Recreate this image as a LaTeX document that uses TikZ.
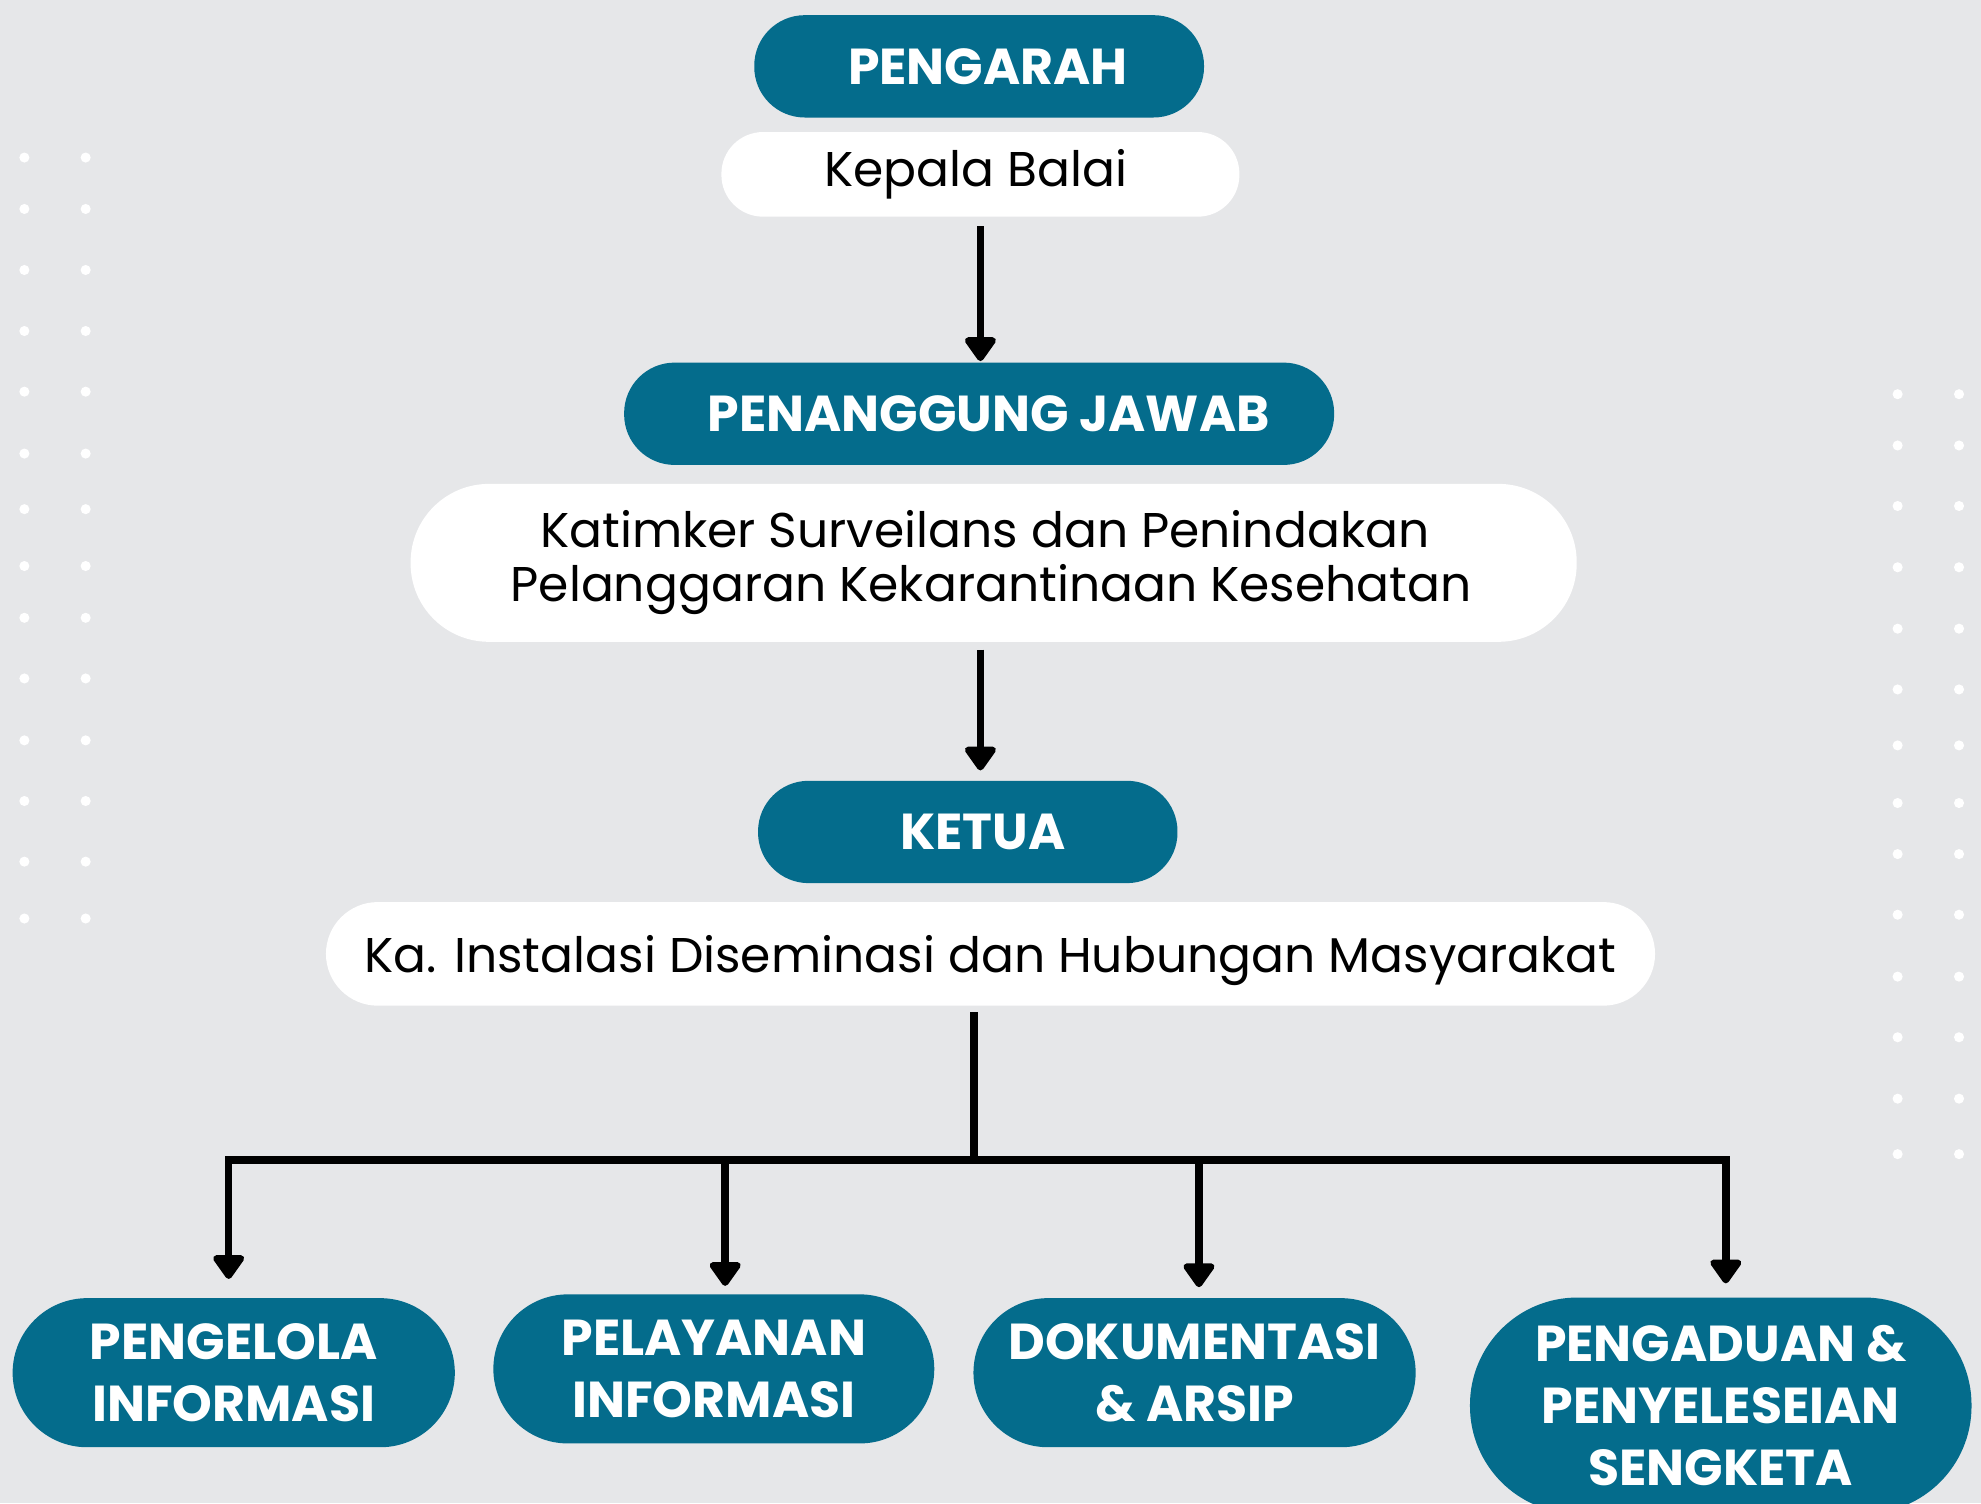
\documentclass[tikz,border=0pt]{standalone}
\usepackage{fontspec}
\setmainfont{Poppins}
\usetikzlibrary{arrows.meta,calc}
\definecolor{tealbox}{HTML}{046C8C}
\definecolor{bgcol}{HTML}{E6E7E9}
\begin{document}
\begin{tikzpicture}[x=1pt,y=-1pt,
  tealpill/.style={fill=tealbox, text=white, font=\fontsize{40}{49}\selectfont\bfseries,
    rounded corners=40pt, minimum height=81pt, inner sep=0pt, align=center},
  whitepill/.style={fill=white, text=black, font=\fontsize{38.6}{43}\selectfont,
    inner sep=0pt, align=center},
  arr/.style={line width=6pt, -{Triangle[width=28pt,length=21pt,round]}},
  barline/.style={line width=6.5pt, line cap=rect}]
\fill[bgcol] (0,0) rectangle (1568,1189.7);
\useasboundingbox (0,0) rectangle (1568,1189.7);
\clip (0,0) rectangle (1568,1189.7);
% dots
\foreach \yy in {124.7,165.4,213.7,262,310,359,403,448,489,537,586,634,682,727}
  {\fill[white] (19.3,\yy) circle[radius=4]; \fill[white] (67.8,\yy) circle[radius=4];}
\foreach \yy in {312,352.6,400.5,449,497.6,545.7,590,635.6,676,724,773,821,869.6,913.5}
  {\fill[white] (1502,\yy) circle[radius=4]; \fill[white] (1550.6,\yy) circle[radius=4];}
% top nodes
\node[tealpill, minimum width=356pt] (peng) at (775,52.5) {\hspace*{14pt}PENGARAH};
\node[whitepill, minimum width=410pt, minimum height=67pt, rounded corners=33pt] (kb) at (776,138) {\hspace*{-7pt}Kepala Balai};
\node[tealpill, minimum width=562pt] (pj) at (775,327.5) {\hspace*{15pt}PENANGGUNG JAWAB};
\node[whitepill, minimum width=923pt, minimum height=125pt, rounded corners=62pt] (kt) at (786.5,445.5)
  {\hspace*{-14pt}Katimker Surveilans dan Penindakan\\\hspace*{-4pt}Pelanggaran Kekarantinaan Kesehatan};
\node[tealpill, minimum width=332pt] (ket) at (766,658.5) {\hspace*{24pt}KETUA};
\node[whitepill, minimum width=1052pt, minimum height=82pt, rounded corners=41pt] (ka) at (784,755)
  {\raisebox{-5pt}[\height][\depth]{Ka. Instalasi Diseminasi dan Hubungan Masyarakat}};
% bottom nodes
\node[tealpill, minimum width=350pt, minimum height=118pt, rounded corners=59pt] (b1) at (185,1086.5) {PENGELOLA\\INFORMASI};
\node[tealpill, minimum width=349pt, minimum height=118pt, rounded corners=59pt] (b2) at (565,1083.5) {PELAYANAN\\INFORMASI};
\node[tealpill, minimum width=350pt, minimum height=118pt, rounded corners=59pt] (b3) at (945.5,1086.5) {DOKUMENTASI\\\& ARSIP};
\node[tealpill, minimum width=397pt, minimum height=171pt, rounded corners=85pt] (b4) at (1362,1112.5) {PENGADUAN \&\\PENYELESEIAN\\SENGKETA};
% connectors
\coordinate (a1) at (776,0);
\coordinate (a2) at (776,0);
\draw[arr] ($(a1 |- kb.south)+(0,7.5)$) -- ($(a1 |- pj.north)+(0,-1)$);
\draw[arr] ($(a2 |- kt.south)+(0,6)$) -- ($(a2 |- ket.north)+(0,-8)$);
\coordinate (hub) at (771,918);
\coordinate (j1) at (181,918);
\coordinate (j2) at (574,918);
\coordinate (j3) at (949,918);
\coordinate (j4) at (1366,918);
\draw[barline] ($(hub |- ka.south)+(0,8)$) -- (hub);
\draw[barline] (j1) -- (j4);
\draw[arr] (j1) -- ($(j1 |- b1.north)+(0,-15)$);
\draw[arr] (j2) -- ($(j2 |- b2.north)+(0,-6.5)$);
\draw[arr] (j3) -- ($(j3 |- b3.north)+(0,-8.5)$);
\draw[arr] (j4) -- ($(j4 |- b4.north)+(0,-11)$);
\end{tikzpicture}
\end{document}
